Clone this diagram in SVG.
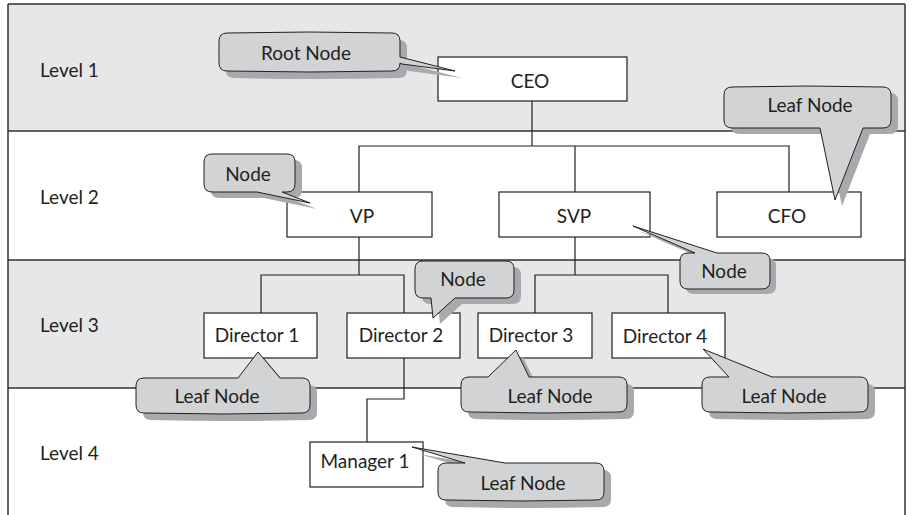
<svg xmlns="http://www.w3.org/2000/svg" width="913" height="515" viewBox="0 0 913 515">
<defs>
<style>
.band-g{fill:#e6e7e8}
.band-w{fill:#ffffff}
.sep{stroke:#333233;stroke-width:1.5;fill:none}
.frame{stroke:#333233;stroke-width:1.5;fill:none}
.node rect{fill:#ffffff;stroke:#231f20;stroke-width:1.2}
.t{font-family:Lato,"Liberation Sans",sans-serif;font-size:19px;fill:#231f20}
.c{text-anchor:middle}
.conn{stroke:#231f20;stroke-width:1.2;fill:none}
.call{fill:#d1d3d4;stroke:#231f20;stroke-width:1;stroke-linejoin:miter}
.shadow{fill:#a7a9ac;stroke:none}
</style>
</defs>
<rect width="913" height="515" fill="#ffffff"/>
<g id="bands">
<rect class="band-g" x="8" y="4" width="897" height="127"/>
<rect class="band-w" x="8" y="131" width="897" height="129"/>
<rect class="band-g" x="8" y="260" width="897" height="128"/>
<rect class="band-w" x="8" y="388" width="897" height="127"/>
<line class="frame" x1="8" y1="4" x2="905" y2="4"/>
<line class="frame" x1="8" y1="4" x2="8" y2="515"/>
<line class="frame" x1="905" y1="4" x2="905" y2="515"/>
<line class="sep" x1="8" y1="131" x2="905" y2="131"/>
<line class="sep" x1="8" y1="260" x2="905" y2="260"/>
<line class="sep" x1="8" y1="388" x2="905" y2="388"/>
<text class="t" x="40" y="77">Level 1</text>
<text class="t" x="40" y="204">Level 2</text>
<text class="t" x="40" y="332">Level 3</text>
<text class="t" x="40" y="460">Level 4</text>
</g>
<g id="connectors">
<polyline class="conn" points="532,101 532,146"/>
<polyline class="conn" points="359,192 359,146 789,146 789,192"/>
<polyline class="conn" points="575,146 575,192"/>
<polyline class="conn" points="359,237 359,275"/>
<polyline class="conn" points="261,313 261,275 404,275 404,313"/>
<polyline class="conn" points="575,237 575,275"/>
<polyline class="conn" points="535,313 535,275 668,275 668,313"/>
<polyline class="conn" points="404,358 404,399 367,399 367,442"/>
</g>
<g id="ceo" class="node"><rect x="438" y="57" width="189" height="44"/><text class="t c" x="530" y="88">CEO</text></g>
<g id="vp" class="node"><rect x="287" y="192" width="145" height="45"/><text class="t c" x="362" y="223">VP</text></g>
<g id="svp" class="node"><rect x="499" y="192" width="151" height="45"/><text class="t c" x="574" y="223">SVP</text></g>
<g id="cfo" class="node"><rect x="717" y="192" width="144" height="45"/><text class="t c" x="787" y="223">CFO</text></g>
<g id="director1" class="node"><rect x="204" y="313" width="113" height="45"/><text class="t c" x="257" y="342">Director 1</text></g>
<g id="director2" class="node"><rect x="347" y="313" width="113" height="45"/><text class="t c" x="401" y="342">Director 2</text></g>
<g id="director3" class="node"><rect x="478" y="313" width="114" height="45"/><text class="t c" x="531" y="342">Director 3</text></g>
<g id="director4" class="node"><rect x="612" y="313" width="113" height="45"/><text class="t c" x="665" y="343">Director 4</text></g>
<g id="manager1" class="node"><rect x="310" y="442" width="113" height="45"/><text class="t c" x="365" y="468">Manager 1</text></g>

<g id="callout-root">
<path class="shadow" transform="translate(7,7)" d="M227,33 Q310,31 392,33 Q400,33 400,41 L400,57 L455,71 L402,64 L400,63 Q400,71 392,71 Q310,73 227,71 Q219,71 219,63 L219,41 Q219,33 227,33 Z"/>
<path class="call" d="M227,33 Q310,31 392,33 Q400,33 400,41 L400,57 L455,71 L402,64 L400,63 Q400,71 392,71 Q310,73 227,71 Q219,71 219,63 L219,41 Q219,33 227,33 Z"/>
<text class="t c" x="306" y="60">Root Node</text>
</g>
<g id="callout-cfo">
<path class="shadow" transform="translate(7,6)" d="M732,87 Q808,85 883,87 Q891,87 891,95 L891,120 Q891,128 883,128 L863,128 L835,200 L820,128 L732,128 Q724,128 724,120 L724,95 Q724,87 732,87 Z"/>
<path class="call" d="M732,87 Q808,85 883,87 Q891,87 891,95 L891,120 Q891,128 883,128 L863,128 L835,200 L820,128 L732,128 Q724,128 724,120 L724,95 Q724,87 732,87 Z"/>
<text class="t c" x="810" y="112">Leaf Node</text>
</g>
<g id="callout-vp">
<path class="shadow" transform="translate(7,6)" d="M212,154 L287,154 Q295,154 295,162 L295,184 Q295,192 287,192 L282,192 L310,203 L257,192 L212,192 Q204,192 204,184 L204,162 Q204,154 212,154 Z"/>
<path class="call" d="M212,154 L287,154 Q295,154 295,162 L295,184 Q295,192 287,192 L282,192 L310,203 L257,192 L212,192 Q204,192 204,184 L204,162 Q204,154 212,154 Z"/>
<text class="t c" x="248" y="181">Node</text>
</g>
<g id="callout-svp">
<path class="shadow" transform="translate(6,5)" d="M688,253 L695,253 L633,226 L717,253 L762,253 Q770,253 770,261 L770,281 Q770,289 762,289 L688,289 Q680,289 680,281 L680,261 Q680,253 688,253 Z"/>
<path class="call" d="M688,253 L695,253 L633,226 L717,253 L762,253 Q770,253 770,261 L770,281 Q770,289 762,289 L688,289 Q680,289 680,281 L680,261 Q680,253 688,253 Z"/>
<text class="t c" x="724" y="278">Node</text>
</g>
<g id="callout-dir2">
<path class="shadow" transform="translate(7,6)" d="M423,261 L506,261 Q514,261 514,269 L514,290 Q514,298 506,298 L455,298 L433,318 L431,298 L423,298 Q415,298 415,290 L415,269 Q415,261 423,261 Z"/>
<path class="call" d="M423,261 L506,261 Q514,261 514,269 L514,290 Q514,298 506,298 L455,298 L433,318 L431,298 L423,298 Q415,298 415,290 L415,269 Q415,261 423,261 Z"/>
<text class="t c" x="463" y="286">Node</text>
</g>
<g id="callout-dir1">
<path class="shadow" transform="translate(7,7)" d="M144,378 L238,378 L258,352 L280,378 L302,378 Q310,378 310,386 L310,405 Q310,413 302,413 Q223,415 144,413 Q136,413 136,405 L136,386 Q136,378 144,378 Z"/>
<path class="call" d="M144,378 L238,378 L258,352 L280,378 L302,378 Q310,378 310,386 L310,405 Q310,413 302,413 Q223,415 144,413 Q136,413 136,405 L136,386 Q136,378 144,378 Z"/>
<text class="t c" x="217" y="403">Leaf Node</text>
</g>
<g id="callout-dir3">
<path class="shadow" transform="translate(7,7)" d="M469,377 L488,377 L516,350 L529,377 L619,377 Q627,377 627,385 L627,404 Q627,412 619,412 Q544,414 469,412 Q461,412 461,404 L461,385 Q461,377 469,377 Z"/>
<path class="call" d="M469,377 L488,377 L516,350 L529,377 L619,377 Q627,377 627,385 L627,404 Q627,412 619,412 Q544,414 469,412 Q461,412 461,404 L461,385 Q461,377 469,377 Z"/>
<text class="t c" x="550" y="403">Leaf Node</text>
</g>
<g id="callout-dir4">
<path class="shadow" transform="translate(7,7)" d="M710,377 L729,377 L703,349 L772,377 L860,377 Q868,377 868,385 L868,404 Q868,412 860,412 Q785,414 710,412 Q702,412 702,404 L702,385 Q702,377 710,377 Z"/>
<path class="call" d="M710,377 L729,377 L703,349 L772,377 L860,377 Q868,377 868,385 L868,404 Q868,412 860,412 Q785,414 710,412 Q702,412 702,404 L702,385 Q702,377 710,377 Z"/>
<text class="t c" x="784" y="403">Leaf Node</text>
</g>
<g id="callout-mgr1">
<path class="shadow" transform="translate(7,7)" d="M446,463 L465,463 L412,447 L505,463 L596,463 Q604,463 604,471 L604,492 Q604,500 596,500 Q521,502 446,500 Q438,500 438,492 L438,471 Q438,463 446,463 Z"/>
<path class="call" d="M446,463 L465,463 L412,447 L505,463 L596,463 Q604,463 604,471 L604,492 Q604,500 596,500 Q521,502 446,500 Q438,500 438,492 L438,471 Q438,463 446,463 Z"/>
<text class="t c" x="523" y="490">Leaf Node</text>
</g>
</svg>
